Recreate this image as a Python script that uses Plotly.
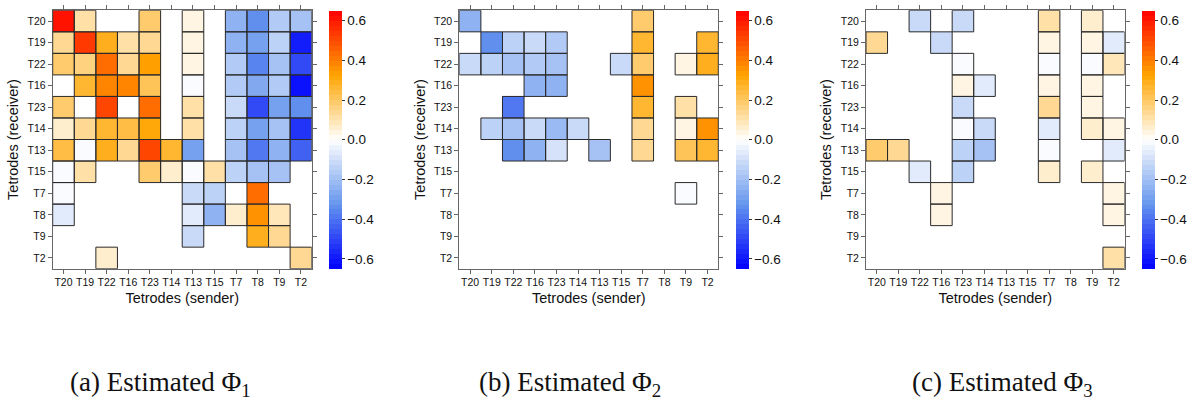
import numpy as np
import plotly.graph_objects as go

# sender (columns) and receiver (rows) share the same tetrode order
tetrodes = ["T20", "T19", "T22", "T16", "T23", "T14", "T13", "T15", "T7", "T8", "T9", "T2"]
N = None  # zero entry: left blank

phi1 = [
    [0.62, 0.12, N, N, 0.20, N, 0.04, N, -0.25, -0.33, -0.17, -0.20],
    [0.15, 0.55, 0.28, 0.12, 0.15, N, 0.04, N, -0.25, -0.28, -0.13, -0.60],
    [0.18, 0.17, 0.45, 0.14, 0.33, N, 0.04, N, -0.17, -0.36, -0.18, -0.50],
    [N, 0.27, 0.38, 0.38, 0.22, N, -0.02, N, -0.17, -0.26, -0.17, -0.62],
    [0.18, N, 0.50, N, 0.45, N, 0.12, N, -0.10, -0.50, -0.30, -0.35],
    [0.07, 0.15, 0.27, 0.24, 0.32, N, 0.12, N, -0.15, -0.28, -0.18, -0.55],
    [0.23, -0.02, 0.28, 0.13, 0.52, 0.25, -0.30, N, -0.18, -0.40, -0.25, -0.45],
    [-0.02, 0.12, N, N, 0.18, 0.07, -0.02, 0.12, -0.14, -0.20, -0.18, N],
    [-0.02, N, N, N, N, N, -0.12, -0.15, N, 0.43, N, N],
    [-0.07, N, N, N, N, N, -0.06, -0.25, 0.05, 0.37, 0.08, N],
    [N, N, N, N, N, N, -0.10, N, N, 0.28, 0.15, N],
    [N, N, 0.07, N, N, N, N, N, N, N, N, 0.15],
]

phi2 = [
    [-0.25, N, N, N, N, N, N, N, 0.20, N, N, N],
    [N, -0.35, -0.15, -0.12, -0.17, N, N, N, 0.25, N, N, 0.25],
    [-0.10, -0.15, -0.18, -0.17, -0.18, N, N, -0.10, 0.20, N, 0.04, 0.28],
    [N, N, N, -0.25, -0.25, N, N, N, 0.35, N, N, N],
    [N, N, -0.38, N, N, N, N, N, 0.25, N, 0.12, N],
    [N, -0.13, -0.18, -0.12, -0.22, -0.10, N, N, 0.14, N, 0.04, 0.35],
    [N, N, -0.35, -0.25, -0.08, N, -0.18, N, 0.15, N, 0.22, 0.25],
    [N, N, N, N, N, N, N, N, N, N, N, N],
    [N, N, N, N, N, N, N, N, N, N, -0.02, N],
    [N, N, N, N, N, N, N, N, N, N, N, N],
    [N, N, N, N, N, N, N, N, N, N, N, N],
    [N, N, N, N, N, N, N, N, N, N, N, N],
]

phi3 = [
    [N, N, -0.10, N, -0.10, N, N, N, 0.12, N, 0.07, N],
    [0.13, N, N, -0.10, N, N, N, N, 0.04, N, 0.04, -0.06],
    [N, N, N, N, -0.02, N, N, N, -0.02, N, -0.02, 0.08],
    [N, N, N, N, 0.04, -0.05, N, N, 0.04, N, 0.04, N],
    [N, N, N, N, -0.10, N, N, N, 0.15, N, 0.04, N],
    [N, N, N, N, -0.02, -0.10, N, N, -0.05, N, 0.07, 0.04],
    [0.18, 0.14, N, N, -0.15, -0.20, N, N, -0.02, N, N, -0.07],
    [N, N, -0.05, N, -0.15, N, N, N, 0.07, N, 0.07, N],
    [N, N, N, 0.04, N, N, N, N, N, N, N, 0.04],
    [N, N, N, 0.04, N, N, N, N, N, N, N, 0.04],
    [N, N, N, N, N, N, N, N, N, N, N, N],
    [N, N, N, N, N, N, N, N, N, N, N, 0.10],
]

captions = ["(a) Estimated Φ<sub>1</sub>", "(b) Estimated Φ<sub>2</sub>", "(c) Estimated Φ<sub>3</sub>"]
cbar_ticks = [-0.6, -0.4, -0.2, 0.0, 0.2, 0.4, 0.6]

ZMIN, ZMAX = -0.65, 0.65

# blue -> cornflower -> white -> orange -> red ramp, cut into discrete levels
anchors = [(0, 0, 255), (100, 149, 237), (255, 255, 255), (255, 165, 0), (255, 0, 0)]


def ramp(t):
    p = t * (len(anchors) - 1)
    i = min(int(p), len(anchors) - 2)
    f = p - i
    a, b = anchors[i], anchors[i + 1]
    return "rgb(%d,%d,%d)" % tuple(round(a[k] + (b[k] - a[k]) * f) for k in range(3))


levels = 52
colorscale = []
for i in range(levels):
    c = ramp((i + 0.5) / levels)
    colorscale.append([i / levels, c])
    colorscale.append([(i + 1) / levels, c])

W, H = 1188, 404
panel_x = [(52.7, 311.7), (459.3, 718.3), (866.0, 1124.5)]
cbar_left = [329.0, 735.7, 1141.7]
top_px, bot_px = 10.3, 268.7
caption_x = [160, 570, 1002]

fig = go.Figure()
n = len(tetrodes)
idx = list(range(n))
frame = "#666666"
sans = "Liberation Sans, Arial"

for k, (mat, cap) in enumerate(zip([phi1, phi2, phi3], captions)):
    sfx = "" if k == 0 else str(k + 1)
    z = np.array([[np.nan if v is None else v for v in row] for row in mat], dtype=float)
    fig.add_trace(go.Heatmap(
        z=z, x=idx, y=idx, zmin=ZMIN, zmax=ZMAX, colorscale=colorscale,
        xaxis="x" + sfx, yaxis="y" + sfx, hoverongaps=False,
        colorbar=dict(
            x=cbar_left[k] / W, xanchor="left", xref="paper",
            y=1 - bot_px / H, yanchor="bottom", len=(bot_px - top_px) / H, lenmode="fraction",
            thickness=13, thicknessmode="pixels", outlinewidth=0,
            tickvals=cbar_ticks,
            ticktext=[("−%.1f" % -v) if v < 0 else "%.1f" % v for v in cbar_ticks],
            ticks="outside", ticklen=3, tickcolor="#333", ypad=0, xpad=0,
            tickfont=dict(family=sans, size=13.5, color="#111"),
        ),
    ))
    # outline every non-zero cell
    for r in range(n):
        for c in range(n):
            if mat[r][c] is not None:
                fig.add_shape(type="rect", xref="x" + sfx, yref="y" + sfx,
                              x0=c - 0.5, x1=c + 0.5, y0=r - 0.5, y1=r + 0.5,
                              line=dict(color="#2a2a2a", width=1), fillcolor="rgba(0,0,0,0)")
    x0p, x1p = panel_x[k]
    axfont = dict(family=sans, size=10.5, color="#111")
    fig.update_layout(**{
        "xaxis" + sfx: dict(
            domain=[x0p / W, x1p / W], anchor="y" + sfx, range=[-0.5, n - 0.5],
            tickvals=idx, ticktext=tetrodes, tickfont=axfont,
            ticks="outside", ticklen=4, tickcolor=frame, showline=True, linecolor=frame,
            mirror="ticks", showgrid=False, zeroline=False,
            title=dict(text="Tetrodes (sender)", standoff=5,
                       font=dict(family=sans, size=14.5, color="#111")),
        ),
        "yaxis" + sfx: dict(
            domain=[1 - bot_px / H, 1 - top_px / H], anchor="x" + sfx, range=[n - 0.5, -0.5],
            tickvals=idx, ticktext=tetrodes, tickfont=axfont,
            ticks="outside", ticklen=4, tickcolor=frame, showline=True, linecolor=frame,
            mirror="ticks", showgrid=False, zeroline=False,
            title=dict(text="Tetrodes (receiver)", standoff=5,
                       font=dict(family=sans, size=14.5, color="#111")),
        ),
    })
    fig.add_annotation(text=cap, xref="paper", yref="paper",
                       x=caption_x[k] / W, y=1 - 384 / H, xanchor="center", yanchor="middle",
                       showarrow=False,
                       font=dict(family="Liberation Serif, DejaVu Serif, serif", size=27, color="#111"))

fig.update_layout(
    width=W, height=H, margin=dict(l=0, r=0, t=0, b=0),
    paper_bgcolor="white", plot_bgcolor="white", showlegend=False,
)

fig.write_html("out.html")
